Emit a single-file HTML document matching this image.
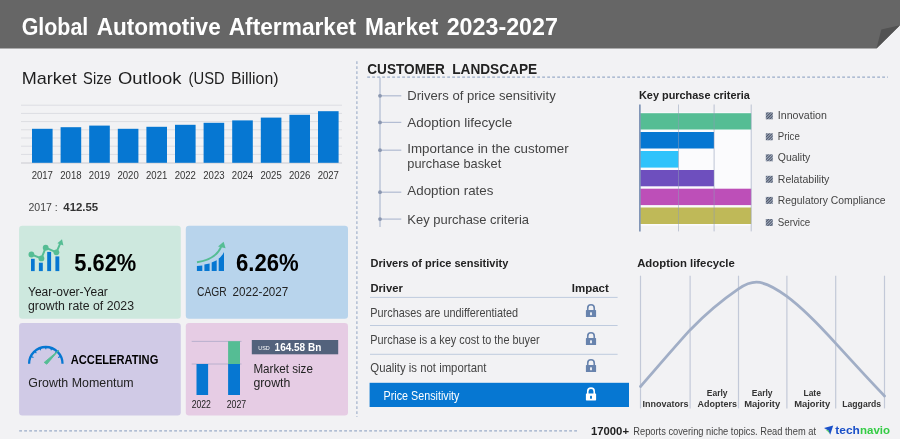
<!DOCTYPE html>
<html lang="en">
<head>
<meta charset="utf-8">
<title>Global Automotive Aftermarket Market 2023-2027</title>
<style>
html,body{margin:0;padding:0;background:#f2f2f4;}
body{width:900px;height:439px;overflow:hidden;font-family:"Liberation Sans",sans-serif;}
svg{display:block;position:absolute;left:0;top:0;}
text{font-family:"Liberation Sans",sans-serif;}
.b{font-weight:bold;}
</style>
</head>
<body>
<svg width="900" height="439" viewBox="0 0 900 439">
<defs>
<pattern id="hatch" width="2" height="2" patternUnits="userSpaceOnUse" patternTransform="rotate(-45)">
<rect width="2" height="2" fill="#a9b6cc"/>
<rect width="2" height="1.1" fill="#4f5666"/>
</pattern>
</defs>
<rect x="0" y="0" width="900" height="439" fill="#f2f2f4"/>

<!-- HEADER -->
<g id="header">
<path d="M0 0 H900 V25.3 L876.5 48.5 H0 Z" fill="#666666"/>
<path d="M876.5 48.5 L881.3 29.6 L900 25.3 Z" fill="#525252"/>
<text y="35.1" font-size="23.4" class="b" fill="#ffffff"><tspan x="21.7" textLength="66.6" lengthAdjust="spacingAndGlyphs">Global</tspan> <tspan x="96.7" textLength="124" lengthAdjust="spacingAndGlyphs">Automotive</tspan> <tspan x="228.7" textLength="127.5" lengthAdjust="spacingAndGlyphs">Aftermarket</tspan> <tspan x="365" textLength="73.3" lengthAdjust="spacingAndGlyphs">Market</tspan> <tspan x="446.7" textLength="111.2" lengthAdjust="spacingAndGlyphs">2023-2027</tspan></text>
</g>

<!-- MARKET SIZE OUTLOOK -->
<g id="outlook">
<text y="84.3" font-size="16.2" fill="#1e1e1e"><tspan x="21.8" textLength="55.1" lengthAdjust="spacingAndGlyphs">Market</tspan> <tspan x="83.1" textLength="28.6" lengthAdjust="spacingAndGlyphs">Size</tspan> <tspan x="118" textLength="63.4" lengthAdjust="spacingAndGlyphs">Outlook</tspan> <tspan x="188.6" textLength="36.1" lengthAdjust="spacingAndGlyphs">(USD</tspan> <tspan x="230.9" textLength="47.6" lengthAdjust="spacingAndGlyphs">Billion)</tspan></text>
<g stroke="#dcdde2" stroke-width="1">
<line x1="21" y1="105.2" x2="342" y2="105.2"/>
<line x1="21" y1="113.4" x2="342" y2="113.4"/>
<line x1="21" y1="121.6" x2="342" y2="121.6"/>
<line x1="21" y1="129.8" x2="342" y2="129.8"/>
<line x1="21" y1="138" x2="342" y2="138"/>
<line x1="21" y1="146.2" x2="342" y2="146.2"/>
<line x1="21" y1="154.4" x2="342" y2="154.4"/>
</g>
<line x1="21" y1="163" x2="342" y2="163" stroke="#c9cad0" stroke-width="1.2"/>
<g fill="#0677d2">
<rect x="32" y="128.8" width="20.6" height="34"/>
<rect x="60.6" y="127.2" width="20.6" height="35.6"/>
<rect x="89.2" y="125.6" width="20.6" height="37.2"/>
<rect x="117.8" y="128.8" width="20.6" height="34"/>
<rect x="146.4" y="126.8" width="20.6" height="36"/>
<rect x="175" y="124.8" width="20.6" height="38"/>
<rect x="203.6" y="122.8" width="20.6" height="40"/>
<rect x="232.2" y="120.4" width="20.6" height="42.4"/>
<rect x="260.8" y="117.6" width="20.6" height="45.2"/>
<rect x="289.4" y="114.8" width="20.6" height="48"/>
<rect x="318" y="111.2" width="20.6" height="51.6"/>
</g>
<g font-size="10.2" fill="#333333" text-anchor="middle">
<text x="42.3" y="179.2" textLength="21.3" lengthAdjust="spacingAndGlyphs">2017</text>
<text x="70.9" y="179.2" textLength="21.3" lengthAdjust="spacingAndGlyphs">2018</text>
<text x="99.5" y="179.2" textLength="21.3" lengthAdjust="spacingAndGlyphs">2019</text>
<text x="128.1" y="179.2" textLength="21.3" lengthAdjust="spacingAndGlyphs">2020</text>
<text x="156.7" y="179.2" textLength="21.3" lengthAdjust="spacingAndGlyphs">2021</text>
<text x="185.3" y="179.2" textLength="21.3" lengthAdjust="spacingAndGlyphs">2022</text>
<text x="213.9" y="179.2" textLength="21.3" lengthAdjust="spacingAndGlyphs">2023</text>
<text x="242.5" y="179.2" textLength="21.3" lengthAdjust="spacingAndGlyphs">2024</text>
<text x="271.1" y="179.2" textLength="21.3" lengthAdjust="spacingAndGlyphs">2025</text>
<text x="299.7" y="179.2" textLength="21.3" lengthAdjust="spacingAndGlyphs">2026</text>
<text x="328.3" y="179.2" textLength="21.3" lengthAdjust="spacingAndGlyphs">2027</text>
</g>
<text x="28.5" y="211" font-size="10.7" fill="#444444" textLength="29.3" lengthAdjust="spacingAndGlyphs">2017 :</text>
<text x="63.3" y="210.6" font-size="11" class="b" fill="#333333" textLength="34.9" lengthAdjust="spacingAndGlyphs">412.55</text>
</g>

<!-- KPI BOXES -->
<g id="kpi">
<rect x="19.1" y="225.8" width="161.7" height="92.9" rx="3.2" fill="#cde8de"/>
<rect x="185.8" y="225.8" width="162.2" height="92.9" rx="3.2" fill="#b8d4ec"/>
<rect x="19.1" y="323" width="161.7" height="92.5" rx="3.2" fill="#d0cae6"/>
<rect x="185.8" y="323" width="162.2" height="92.5" rx="3.2" fill="#e6cce4"/>
</g>

<!-- KPI 1 : YoY -->
<g id="kpi1">
<g fill="#0677d2">
<rect x="31" y="258.8" width="3.7" height="12.3"/>
<rect x="38.9" y="262.7" width="3.9" height="8.4"/>
<rect x="47.2" y="251.9" width="3.9" height="19.2"/>
<rect x="55.4" y="256.4" width="3.9" height="14.7"/>
</g>
<polyline points="31.4,254.5 41.4,258.4 45.7,247.7 56.4,252.3 60.6,242.6" fill="none" stroke="#55bd94" stroke-width="2" stroke-linejoin="round"/>
<g fill="#55bd94">
<circle cx="31.4" cy="254.5" r="2.9"/>
<circle cx="41.4" cy="258.4" r="2.9"/>
<circle cx="45.7" cy="247.7" r="2.9"/>
<circle cx="56.4" cy="252.3" r="2.9"/>
<path d="M57.4 243.2 L62 239.2 L63.4 245.4 Z"/>
</g>
<text x="74.3" y="270.8" font-size="24.2" class="b" fill="#000000" textLength="62" lengthAdjust="spacingAndGlyphs">5.62%</text>
<text x="28" y="295.5" font-size="12" fill="#1a1a1a">Year-over-Year</text>
<text x="28" y="309.5" font-size="12" fill="#222222" textLength="106" lengthAdjust="spacingAndGlyphs">growth rate of 2023</text>
</g>

<!-- KPI 2 : CAGR -->
<g id="kpi2">
<g fill="#0677d2">
<path d="M196.9 266 L202.3 265.6 L202.3 271 L196.9 271 Z"/>
<path d="M204.4 264.6 L209.6 263.6 L209.6 271 L204.4 271 Z"/>
<path d="M211.7 262.4 L216.7 260.2 L216.7 271 L211.7 271 Z"/>
<path d="M218.7 258.6 C220.8 257 222.6 255 224 252 L224 271 L218.7 271 Z"/>
</g>
<path d="M197 262.2 C209 260.4 218.4 255 221.6 245.4" fill="none" stroke="#55bd94" stroke-width="1.9"/>
<path d="M218 246.6 L223.6 241.8 L225.6 248.2 Z" fill="#55bd94"/>
<text x="236" y="270.8" font-size="24.2" class="b" fill="#000000" textLength="62.7" lengthAdjust="spacingAndGlyphs">6.26%</text>
<text y="295.5" font-size="12" fill="#222222"><tspan x="197" textLength="29.6" lengthAdjust="spacingAndGlyphs">CAGR</tspan><tspan x="232.6" textLength="55.7" lengthAdjust="spacingAndGlyphs">2022-2027</tspan></text>
</g>

<!-- KPI 3 : Momentum -->
<g id="kpi3">
<path d="M29.1 363.7 A16.7 16.7 0 0 1 62.5 363.7" fill="none" stroke="#0677d2" stroke-width="2.3"/>
<g stroke="#0677d2" stroke-width="1.1">
<line x1="60.5" y1="356.5" x2="58.1" y2="357.5"/>
<line x1="57.0" y1="351.4" x2="55.2" y2="353.2"/>
<line x1="51.9" y1="347.9" x2="50.9" y2="350.3"/>
<line x1="45.8" y1="346.7" x2="45.8" y2="349.3"/>
<line x1="39.7" y1="347.9" x2="40.7" y2="350.3"/>
<line x1="34.6" y1="351.4" x2="36.4" y2="353.2"/>
<line x1="31.1" y1="356.5" x2="33.5" y2="357.5"/>
</g>
<path d="M44.2 362.4 L58.8 350.2 L46.8 364.2 Z" fill="#55bd94" stroke="#55bd94" stroke-width="0.9" stroke-linejoin="round"/>
<text x="70.8" y="363.6" font-size="12.3" class="b" fill="#000000" textLength="87.5" lengthAdjust="spacingAndGlyphs">ACCELERATING</text>
<text x="28.3" y="386.7" font-size="12.3" fill="#222222" textLength="105.4" lengthAdjust="spacingAndGlyphs">Growth Momentum</text>
</g>

<!-- KPI 4 : Market size growth -->
<g id="kpi4">
<line x1="191.7" y1="341.4" x2="241.5" y2="341.4" stroke="#b4adcb" stroke-width="0.9"/>
<line x1="191.7" y1="364" x2="241.5" y2="364" stroke="#b4adcb" stroke-width="0.9"/>
<rect x="196.5" y="364" width="11.6" height="31" fill="#0677d2"/>
<rect x="228.1" y="364" width="11.9" height="31" fill="#0677d2"/>
<rect x="228.1" y="341.2" width="11.9" height="22.8" fill="#55bd94"/>
<text x="201.3" y="408.1" font-size="10.4" fill="#222222" text-anchor="middle" textLength="19.3" lengthAdjust="spacingAndGlyphs">2022</text>
<text x="236.5" y="408.1" font-size="10.4" fill="#222222" text-anchor="middle" textLength="19.5" lengthAdjust="spacingAndGlyphs">2027</text>
<rect x="251.8" y="340" width="86.4" height="14.3" fill="#53627c"/>
<text x="258.3" y="349.6" font-size="6.2" fill="#ffffff" textLength="11.5" lengthAdjust="spacingAndGlyphs">USD</text>
<text x="274.6" y="350.9" font-size="10.7" class="b" fill="#ffffff" textLength="46.7" lengthAdjust="spacingAndGlyphs">164.58 Bn</text>
<text x="253.4" y="373.1" font-size="12.5" fill="#222222" textLength="59.5" lengthAdjust="spacingAndGlyphs">Market size</text>
<text x="253.4" y="387" font-size="12.5" fill="#222222" textLength="36.9" lengthAdjust="spacingAndGlyphs">growth</text>
</g>

<!-- DIVIDERS -->
<g id="dividers" stroke="#9aacc8" stroke-width="1.2" stroke-dasharray="2.8 2.2" fill="none">
<line x1="356.9" y1="61.2" x2="356.9" y2="417" stroke-width="1.1"/>
<line x1="367.2" y1="77.1" x2="888" y2="77.1"/>
<line x1="19.2" y1="430.9" x2="579" y2="430.9"/>
</g>

<!-- CUSTOMER LANDSCAPE -->
<g id="landscape">
<text y="74.3" font-size="15" class="b" fill="#222222"><tspan x="367.3" textLength="77.6" lengthAdjust="spacingAndGlyphs">CUSTOMER</tspan><tspan x="452.2" textLength="85" lengthAdjust="spacingAndGlyphs">LANDSCAPE</tspan></text>
<g stroke="#b3bdd3" stroke-width="1.25" fill="none">
<line x1="380" y1="77.4" x2="380" y2="226.9"/>
<line x1="380" y1="95.8" x2="401.3" y2="95.8"/>
<line x1="380" y1="122.4" x2="401.3" y2="122.4"/>
<line x1="380" y1="150.2" x2="401.3" y2="150.2"/>
<line x1="380" y1="192.2" x2="401.3" y2="192.2"/>
<line x1="380" y1="219.1" x2="401.3" y2="219.1"/>
</g>
<g fill="#8b97b0">
<circle cx="380" cy="95.8" r="1.9"/>
<circle cx="380" cy="122.4" r="1.9"/>
<circle cx="380" cy="150.2" r="1.9"/>
<circle cx="380" cy="192.2" r="1.9"/>
<circle cx="380" cy="219.1" r="1.9"/>
</g>
<g font-size="13.3" fill="#444444">
<text x="407.3" y="100.1" textLength="148.4" lengthAdjust="spacingAndGlyphs">Drivers of price sensitivity</text>
<text x="407.3" y="126.6" textLength="105" lengthAdjust="spacingAndGlyphs">Adoption lifecycle</text>
<text x="407.3" y="153.4" textLength="161.4" lengthAdjust="spacingAndGlyphs">Importance in the customer</text>
<text x="407.3" y="168.3" textLength="93.9" lengthAdjust="spacingAndGlyphs">purchase basket</text>
<text x="407.3" y="195.1" textLength="86.1" lengthAdjust="spacingAndGlyphs">Adoption rates</text>
<text x="407.3" y="224.4" textLength="121.7" lengthAdjust="spacingAndGlyphs">Key purchase criteria</text>
</g>
</g>

<!-- KEY PURCHASE CRITERIA -->
<g id="kpc">
<text x="639" y="98.7" font-size="11.5" class="b" fill="#222222" textLength="110.8" lengthAdjust="spacingAndGlyphs">Key purchase criteria</text>
<rect x="640" y="112.4" width="111.2" height="113.2" fill="#fbfbfd"/>
<rect x="640.4" y="113.2" width="110.8" height="16.3" fill="#55bd94"/>
<rect x="640.4" y="132" width="73.6" height="16.5" fill="#0677d2"/>
<rect x="640.4" y="151" width="38" height="16.6" fill="#2fc3fb"/>
<rect x="640.4" y="170" width="73.6" height="16.3" fill="#6e4fbe"/>
<rect x="640.4" y="188.7" width="110.8" height="16.4" fill="#bd4fb8"/>
<rect x="640.4" y="207.5" width="110.8" height="16.5" fill="#bfb958"/>
<g stroke="#8e9ab6" stroke-width="0.8" opacity="0.7">
<line x1="678.4" y1="104.5" x2="678.4" y2="231.4"/>
<line x1="714.1" y1="104.5" x2="714.1" y2="231.4"/>
<line x1="751.2" y1="104.5" x2="751.2" y2="231.4"/>
</g>
<line x1="639.9" y1="104.5" x2="639.9" y2="231.4" stroke="#5c77a3" stroke-width="1.3"/>
<g fill="url(#hatch)">
<rect x="765.8" y="112.3" width="7" height="7"/>
<rect x="765.8" y="133.3" width="7" height="7"/>
<rect x="765.8" y="154.3" width="7" height="7"/>
<rect x="765.8" y="175.8" width="7" height="7"/>
<rect x="765.8" y="196.9" width="7" height="7"/>
<rect x="765.8" y="219" width="7" height="7"/>
</g>
<g font-size="10.6" fill="#444444">
<text x="777.8" y="118.6" textLength="49" lengthAdjust="spacingAndGlyphs">Innovation</text>
<text x="777.8" y="139.6" textLength="22" lengthAdjust="spacingAndGlyphs">Price</text>
<text x="777.8" y="161.4" textLength="32.5" lengthAdjust="spacingAndGlyphs">Quality</text>
<text x="777.8" y="182.9" textLength="51.6" lengthAdjust="spacingAndGlyphs">Relatability</text>
<text x="777.8" y="203.8" textLength="107.8" lengthAdjust="spacingAndGlyphs">Regulatory Compliance</text>
<text x="777.8" y="226.4" textLength="32.5" lengthAdjust="spacingAndGlyphs">Service</text>
</g>
</g>

<!-- DRIVERS OF PRICE SENSITIVITY -->
<g id="drivers">
<text x="370.6" y="267.1" font-size="11.5" class="b" fill="#222222" textLength="137.7" lengthAdjust="spacingAndGlyphs">Drivers of price sensitivity</text>
<text x="370.4" y="292.4" font-size="11.5" class="b" fill="#222222" textLength="32.4" lengthAdjust="spacingAndGlyphs">Driver</text>
<text x="571.8" y="292.4" font-size="11.5" class="b" fill="#222222" textLength="37" lengthAdjust="spacingAndGlyphs">Impact</text>
<g stroke="#bfcbde" stroke-width="1">
<line x1="370" y1="297.4" x2="617.6" y2="297.4"/>
<line x1="370" y1="325.5" x2="617.6" y2="325.5"/>
<line x1="370" y1="354.3" x2="617.6" y2="354.3"/>
</g>
<g font-size="11.9" fill="#444444">
<text x="370.3" y="317.2" textLength="147.8" lengthAdjust="spacingAndGlyphs">Purchases are undifferentiated</text>
<text x="370.3" y="344" textLength="169.4" lengthAdjust="spacingAndGlyphs">Purchase is a key cost to the buyer</text>
<text x="370.3" y="372.2" textLength="116.2" lengthAdjust="spacingAndGlyphs">Quality is not important</text>
</g>
<rect x="369.6" y="382.8" width="259.4" height="24.2" fill="#0677d2"/>
<text x="383.6" y="399.6" font-size="11.9" fill="#ffffff" textLength="75.8" lengthAdjust="spacingAndGlyphs">Price Sensitivity</text>
<g id="locks">
<g transform="translate(591 311.1)">
<path d="M-3.25 -0.6 V-3.1 A3.25 3.25 0 0 1 3.25 -3.1 V-0.6" fill="none" stroke="#6883ad" stroke-width="1.6"/>
<rect x="-5.1" y="-1" width="10.2" height="6.9" rx="0.6" fill="#6883ad"/>
<rect x="-0.95" y="1.2" width="1.9" height="3" rx="0.5" fill="#eef0f5"/>
</g>
<g transform="translate(591 339.1)">
<path d="M-3.25 -0.6 V-3.1 A3.25 3.25 0 0 1 3.25 -3.1 V-0.6" fill="none" stroke="#6883ad" stroke-width="1.6"/>
<rect x="-5.1" y="-1" width="10.2" height="6.9" rx="0.6" fill="#6883ad"/>
<rect x="-0.95" y="1.2" width="1.9" height="3" rx="0.5" fill="#eef0f5"/>
</g>
<g transform="translate(591 366.1)">
<path d="M-3.25 -0.6 V-3.1 A3.25 3.25 0 0 1 3.25 -3.1 V-0.6" fill="none" stroke="#6883ad" stroke-width="1.6"/>
<rect x="-5.1" y="-1" width="10.2" height="6.9" rx="0.6" fill="#6883ad"/>
<rect x="-0.95" y="1.2" width="1.9" height="3" rx="0.5" fill="#eef0f5"/>
</g>
<g transform="translate(591 394.5)">
<path d="M-3.25 -0.6 V-3.1 A3.25 3.25 0 0 1 3.25 -3.1 V-0.6" fill="none" stroke="#ffffff" stroke-width="1.6"/>
<rect x="-5.1" y="-1" width="10.2" height="6.9" rx="0.6" fill="#ffffff"/>
<rect x="-0.95" y="1.2" width="1.9" height="3" rx="0.5" fill="#0677d2"/>
</g>
</g>
</g>

<!-- ADOPTION LIFECYCLE -->
<g id="adoption">
<text x="637.2" y="267.3" font-size="11.5" class="b" fill="#222222" textLength="97.6" lengthAdjust="spacingAndGlyphs">Adoption lifecycle</text>
<g stroke="#c3c9d8" stroke-width="1.2">
<line x1="640.5" y1="275.7" x2="640.5" y2="408.4"/>
<line x1="690.1" y1="275.7" x2="690.1" y2="408.4"/>
<line x1="738.5" y1="275.7" x2="738.5" y2="408.4"/>
<line x1="786.9" y1="275.7" x2="786.9" y2="408.4"/>
<line x1="835.7" y1="275.7" x2="835.7" y2="408.4"/>
<line x1="884.5" y1="275.7" x2="884.5" y2="408.4"/>
</g>
<path d="M640.5 386.5 C657 367.6 673.5 348.2 690.1 329.9 C708 311.5 723 299.5 738.5 288.9 C746 283.8 751 282.2 756.4 282.2 C766 282.2 776 288.4 786.9 296.4 C803 308.4 820 326 835.7 343.4 C852 361 868 379 884.5 395.9" fill="none" stroke="#a1aec6" stroke-width="2.8" stroke-linecap="round"/>
<g font-size="9.1" class="b" fill="#333333" text-anchor="middle">
<text x="665.6" y="406.6" textLength="46" lengthAdjust="spacingAndGlyphs">Innovators</text>
<text x="717.2" y="395.7" textLength="20.8" lengthAdjust="spacingAndGlyphs">Early</text>
<text x="717.2" y="406.6" textLength="39.4" lengthAdjust="spacingAndGlyphs">Adopters</text>
<text x="762.2" y="395.7" textLength="20.8" lengthAdjust="spacingAndGlyphs">Early</text>
<text x="762.2" y="406.6" textLength="36" lengthAdjust="spacingAndGlyphs">Majority</text>
<text x="812.2" y="395.7" textLength="17.5" lengthAdjust="spacingAndGlyphs">Late</text>
<text x="812.2" y="406.6" textLength="36" lengthAdjust="spacingAndGlyphs">Majority</text>
<text x="861.7" y="406.6" textLength="38.8" lengthAdjust="spacingAndGlyphs">Laggards</text>
</g>
</g>

<!-- FOOTER -->
<g id="footer">
<text x="591" y="434.5" font-size="11" class="b" fill="#222222" textLength="38" lengthAdjust="spacingAndGlyphs">17000+</text>
<text x="633.3" y="434.5" font-size="10" fill="#444444" textLength="182.7" lengthAdjust="spacingAndGlyphs">Reports covering niche topics. Read them at</text>
<path d="M824 427.9 L833.2 425.6 L830.2 434.8 L828.4 430.6 Z" fill="#1a50c8"/>
<path d="M825.2 429.6 L828.4 430.6 L830.2 434.8 C829 432.4 827.4 430.8 825.2 429.6 Z" fill="#33cc44"/>
<text y="434" font-size="11.2" class="b"><tspan x="835.3" fill="#1a50c8" textLength="24.6" lengthAdjust="spacingAndGlyphs">tech</tspan><tspan x="860" fill="#33cc44" textLength="30" lengthAdjust="spacingAndGlyphs">navio</tspan></text>
</g>

</svg>
</body>
</html>
